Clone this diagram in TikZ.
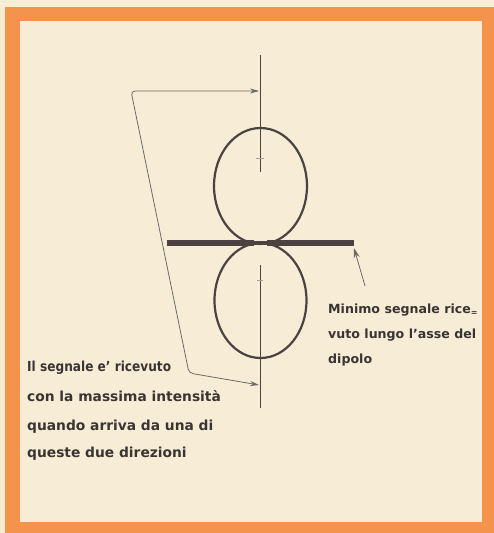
\documentclass[tikz,border=0pt]{standalone}
\usepackage{fontspec}
\setmainfont{DejaVu Sans}
\usetikzlibrary{arrows.meta}
\definecolor{cream}{HTML}{F7EDD7}
\definecolor{frameor}{HTML}{F4944C}
\definecolor{ink}{HTML}{4A4341}
\definecolor{txt}{HTML}{3A3432}
\tikzset{
  wire/.style={draw=ink, line width=0.9pt},
  lobe/.style={draw=ink, line width=2.2pt},
  rod/.style={draw=ink, line width=6pt},
  callout/.style={draw=ink!80, line width=0.8pt},
  lbl/.style={text=txt, font=\bfseries\fontsize{13.8}{13.8}\selectfont, anchor=base west, inner sep=0pt},
  rlbl/.style={text=txt, font=\bfseries\fontsize{12.6}{12.6}\selectfont, anchor=base west, inner sep=0pt},
}
\begin{document}
\begin{tikzpicture}[x=1pt,y=-1pt]
\useasboundingbox (0,0) rectangle (494,533);
\fill[cream] (0,0) rectangle (494,533);
\fill[frameor] (5,7) rectangle (494,533);
\fill[cream] (20,21) rectangle (482,522);

% coordinates
\coordinate (axtop) at (260,55);
\coordinate (axupend) at (260,172);
\coordinate (axlostart) at (260,265);
\coordinate (axbot) at (260,408);
\coordinate (Uc) at (260.5,186);
\coordinate (Lc) at (260.5,300.5);

% lobes
\draw[lobe] (Uc) ellipse [x radius=46.5, y radius=58];
\draw[lobe] (Lc) ellipse [x radius=46, y radius=57.5];

% axis lines
\draw[wire] (axtop) -- (axupend);
\draw[wire] (axlostart) -- (axbot);
\draw[ink!50, line width=0.8pt] (256,158) -- (264,158);
\draw[ink!50, line width=0.8pt] (257,280) -- (263,280);

% dipole rod
\coordinate (rodL) at (167,243);
\coordinate (rodR) at (354,243);
\coordinate (gapL) at (254,243);
\coordinate (gapR) at (267,243);
\draw[rod] (rodL) -- (gapL);
\draw[rod] (gapR) -- (rodR);
\draw[ink, line width=4pt] (gapL) -- (gapR);

% callout (left)
\coordinate (tipTop) at (259,91);
\coordinate (cornerTop) at (131,91);
\coordinate (cornerBot) at (189,373);
\coordinate (tipBot) at (259,385);
\draw[callout, rounded corners=4pt, {Stealth[length=9pt,width=5pt]}-{Stealth[length=9pt,width=5pt]}]
  (tipTop) -- (cornerTop) -- (cornerBot) -- (tipBot);

% callout (right)
\coordinate (rtail) at (365,286);
\coordinate (rtip) at (354,248);
\draw[callout, -{Stealth[length=10pt,width=6pt]}] (rtail) -- (rtip);

% texts
\node[lbl] (t1) at (27,371) {\scalebox{0.88}[1]{Il segnale e' ricevuto}};
\node[lbl] (t2) at (27,401) {con la massima intensità};
\node[lbl] (t3) at (27,430) {quando arriva da una di};
\node[lbl] (t4) at (27,457) {queste due direzioni};
\node[rlbl] (r1) at (328,313) {Minimo segnale rice\raisebox{-0.35ex}{\fontsize{8}{8}\selectfont =}};
\node[rlbl] (r2) at (328,338) {vuto lungo l'asse del};
\node[rlbl] (r3) at (328,363) {dipolo};
\end{tikzpicture}
\end{document}
